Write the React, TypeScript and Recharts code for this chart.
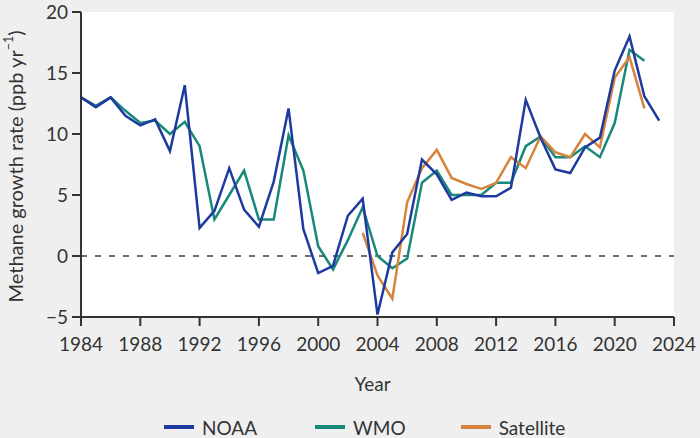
import React from "react";
import {
  LineChart,
  Line,
  XAxis,
  YAxis,
  CartesianGrid,
  ReferenceLine,
  Legend,
  Label,
} from "recharts";

const years = [
  1984, 1985, 1986, 1987, 1988, 1989, 1990, 1991, 1992, 1993, 1994, 1995, 1996,
  1997, 1998, 1999, 2000, 2001, 2002, 2003, 2004, 2005, 2006, 2007, 2008, 2009,
  2010, 2011, 2012, 2013, 2014, 2015, 2016, 2017, 2018, 2019, 2020, 2021, 2022,
  2023,
];

const noaa = [
  13.0, 12.2, 13.0, 11.5, 10.7, 11.2, 8.6, 14.0, 2.3, 3.7, 7.2, 3.8, 2.4, 6.1,
  12.1, 2.2, -1.4, -0.8, 3.3, 4.7, -4.8, 0.3, 1.8, 7.9, 6.7, 4.6, 5.2, 4.9, 4.9,
  5.6, 12.8, 9.7, 7.1, 6.8, 8.9, 9.7, 15.2, 18.0, 13.1, 11.1,
];

const wmo = [
  13.0, 12.3, 13.0, 11.9, 10.9, 11.1, 10.0, 11.0, 9.0, 3.0, 5.0, 7.0, 3.0, 3.0,
  9.9, 7.0, 0.8, -1.1, 1.3, 4.0, 0.0, -1.0, -0.2, 6.0, 7.0, 5.0, 5.0, 5.0, 6.0,
  6.0, 9.0, 9.8, 8.1, 8.1, 9.0, 8.1, 10.9, 16.9, 16.0, null,
];

const satellite = [
  null, null, null, null, null, null, null, null, null, null, null, null, null,
  null, null, null, null, null, null, 1.9, -1.6, -3.5, 4.4, 7.2, 8.7, 6.4, 5.9,
  5.5, 6.0, 8.1, 7.2, 9.8, 8.5, 8.1, 10.0, 8.9, 14.6, 16.3, 12.1, null,
];

const xTicks = [1984, 1988, 1992, 1996, 2000, 2004, 2008, 2012, 2016, 2020, 2024];
const yTicks = [-5, 0, 5, 10, 15, 20];
const legendOrder = ["NOAA", "WMO", "Satellite"];

const data = years.map((year, i) => ({
  year,
  NOAA: noaa[i],
  WMO: wmo[i],
  Satellite: satellite[i],
}));

const COLORS = {
  NOAA: "#1f3a9e",
  WMO: "#17897a",
  Satellite: "#d6843e",
};

const TEXT = "#333333";
const FONT = "Lato, 'Noto Sans', sans-serif";

const renderLegend = (props: any) => {
  const payload = [...(props.payload || [])].sort(
    (a: any, b: any) => legendOrder.indexOf(a.value) - legendOrder.indexOf(b.value)
  );
  const gaps = [58, 55, 0];
  return (
    <div
      style={{
        display: "flex",
        alignItems: "center",
        height: 30,
        paddingLeft: 164,
        fontFamily: FONT,
      }}
    >
      {payload.map((e: any, i: number) => (
        <div
          key={e.value}
          style={{ display: "flex", alignItems: "center", marginRight: gaps[i] }}
        >
          <span
            style={{
              display: "inline-block",
              width: 30,
              height: 3.5,
              background: e.color,
              marginRight: 8,
            }}
          />
          <span style={{ fontSize: 19, color: TEXT }}>{e.value}</span>
        </div>
      ))}
    </div>
  );
};

const YLabel = (props: any) => {
  const vb = props.viewBox || { x: 0, y: 0, width: 0, height: 0 };
  const x = vb.x + 15;
  const y = vb.y + vb.height / 2 + 2;
  return (
    <text
      x={x}
      y={y}
      transform={`rotate(-90 ${x} ${y})`}
      textAnchor="middle"
      dominantBaseline="central"
      fill={TEXT}
      fontSize={20}
      fontFamily={FONT}
    >
      Methane growth rate (ppb yr
      <tspan fontSize={12.5} dy={-7}>
        −1
      </tspan>
      <tspan dy={7}>)</tspan>
    </text>
  );
};

export default function App() {
  return (
    <div
      style={{
        width: 700,
        height: 438,
        background: "#efefef",
        fontFamily: FONT,
        position: "relative",
      }}
    >
      <style>{`body{margin:0;}`}</style>
      <LineChart
        width={700}
        height={438}
        data={data}
        margin={{ top: 12, right: 26, left: 0, bottom: 11 }}
      >
        <CartesianGrid
          fill="#ffffff"
          stroke="none"
          horizontal={false}
          vertical={false}
        />
        <XAxis
          dataKey="year"
          type="number"
          domain={[1984, 2024]}
          ticks={xTicks}
          interval={0}
          height={80}
          tickSize={9}
          tickMargin={12}
          axisLine={{ stroke: TEXT, strokeWidth: 2 }}
          tickLine={{ stroke: TEXT, strokeWidth: 2 }}
          tick={{ fill: TEXT, fontSize: 19, fontFamily: FONT }}
        >
          <Label
            value="Year"
            position="insideBottom"
            offset={6}
            fill={TEXT}
            fontSize={19}
            fontFamily={FONT}
            dx={-5}
          />
        </XAxis>
        <YAxis
          type="number"
          domain={[-5, 20]}
          ticks={yTicks}
          interval={0}
          width={81}
          tickSize={9}
          tickMargin={4}
          axisLine={{ stroke: TEXT, strokeWidth: 2 }}
          tickLine={{ stroke: TEXT, strokeWidth: 2 }}
          tick={{ fill: TEXT, fontSize: 19, fontFamily: FONT }}
          tickFormatter={(v: number) => String(v).replace("-", "−")}
        >
          <Label content={<YLabel />} position="insideLeft" />
        </YAxis>
        <ReferenceLine
          y={0}
          stroke="#6e6e6e"
          strokeWidth={2.2}
          strokeDasharray="6 8"
        />
        <Line
          type="linear"
          dataKey="WMO"
          name="WMO"
          stroke={COLORS.WMO}
          strokeWidth={2.5}
          dot={false}
          activeDot={false}
          isAnimationActive={false}
        />
        <Line
          type="linear"
          dataKey="Satellite"
          name="Satellite"
          stroke={COLORS.Satellite}
          strokeWidth={2.5}
          dot={false}
          activeDot={false}
          isAnimationActive={false}
        />
        <Line
          type="linear"
          dataKey="NOAA"
          name="NOAA"
          stroke={COLORS.NOAA}
          strokeWidth={2.5}
          dot={false}
          activeDot={false}
          isAnimationActive={false}
        />
        <Legend
          verticalAlign="bottom"
          content={renderLegend}
          wrapperStyle={{ top: 412, left: 0, width: 700, height: 30 }}
        />
      </LineChart>
    </div>
  );
}
